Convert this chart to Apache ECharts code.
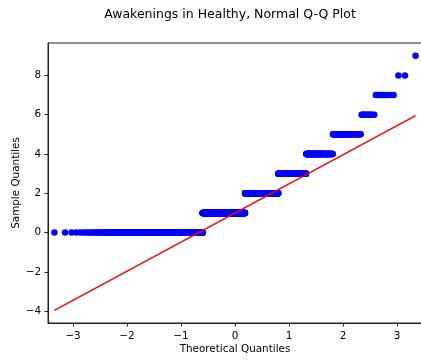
<!DOCTYPE html>
<html>
<head>
<meta charset="utf-8">
<script src="https://cdn.jsdelivr.net/npm/echarts@6/dist/echarts.min.js"></script>
<style>
  html, body { margin: 0; padding: 0; background: #fff; }
  #chart { width: 421px; height: 360px; }
</style>
</head>
<body>
<div id="chart"></div>
<script>
// Awakenings observed in the healthy group: each distinct value and how often it occurs
const sampleValues = [0, 1, 2, 3, 4, 5, 6, 7, 8, 9];
const valueCounts = [659, 718, 515, 283, 141, 61, 12, 8, 2, 1];

// Tick labels for the two axes
const xTicks = [-3, -2, -1, 0, 1, 2, 3];
const yTicks = [-4, -2, 0, 2, 4, 6, 8];

// Inverse of the standard normal CDF (Acklam's rational approximation)
function normPpf(p) {
  const a = [-3.969683028665376e+01, 2.209460984245205e+02, -2.759285104469687e+02,
             1.383577518672690e+02, -3.066479806614716e+01, 2.506628277459239e+00];
  const b = [-5.447609879822406e+01, 1.615858368580409e+02, -1.556989798598866e+02,
             6.680131188771972e+01, -1.328068155288572e+01];
  const c = [-7.784894002430293e-03, -3.223964580411365e-01, -2.400758277161838e+00,
             -2.549732539343734e+00, 4.374664141464968e+00, 2.938163982698783e+00];
  const d = [7.784695709041462e-03, 3.224671290700398e-01, 2.445134137142996e+00,
             3.754408661907416e+00];
  const pLow = 0.02425, pHigh = 1 - pLow;
  let q, r;
  if (p < pLow) {
    q = Math.sqrt(-2 * Math.log(p));
    return (((((c[0]*q+c[1])*q+c[2])*q+c[3])*q+c[4])*q+c[5]) /
           ((((d[0]*q+d[1])*q+d[2])*q+d[3])*q+1);
  }
  if (p <= pHigh) {
    q = p - 0.5; r = q * q;
    return (((((a[0]*r+a[1])*r+a[2])*r+a[3])*r+a[4])*r+a[5])*q /
           (((((b[0]*r+b[1])*r+b[2])*r+b[3])*r+b[4])*r+1);
  }
  q = Math.sqrt(-2 * Math.log(1 - p));
  return -(((((c[0]*q+c[1])*q+c[2])*q+c[3])*q+c[4])*q+c[5]) /
          ((((d[0]*q+d[1])*q+d[2])*q+d[3])*q+1);
}

// Sorted sample, expanded from the value counts
const sorted = [];
sampleValues.forEach((v, k) => {
  for (let j = 0; j < valueCounts[k]; j++) sorted.push(v);
});
const n = sorted.length;

// Pair each order statistic with its theoretical normal quantile, plotting position i/(n+1)
const qqPoints = sorted.map((v, idx) => [normPpf((idx + 1) / (n + 1)), v]);

// Reference line through the first and third quartiles
function quantile(arr, p) {
  const h = (arr.length - 1) * p;
  const lo = Math.floor(h), hi = Math.ceil(h);
  return arr[lo] + (arr[hi] - arr[lo]) * (h - lo);
}
const q1 = quantile(sorted, 0.25), q3 = quantile(sorted, 0.75);
const z1 = normPpf(0.25), z3 = normPpf(0.75);
const slope = (q3 - q1) / (z3 - z1);
const intercept = q1 - slope * z1;
const xFirst = qqPoints[0][0], xLast = qqPoints[n - 1][0];
const qLine = [[xFirst, intercept + slope * xFirst], [xLast, intercept + slope * xLast]];

const fmt = v => (v < 0 ? '\u2212' + Math.abs(v) : String(v));
const font = 'DejaVu Sans';
const spine = '#222';

const chart = echarts.init(document.getElementById('chart'), null, { renderer: 'canvas' });
chart.setOption({
  animation: false,
  backgroundColor: '#fff',
  title: {
    text: 'Awakenings in Healthy, Normal Q-Q Plot',
    left: 225,
    top: 3,
    textAlign: 'center',
    textStyle: { fontFamily: font, fontSize: 12.5, fontWeight: 'normal', color: '#000' }
  },
  grid: {
    left: 48, top: 43, width: 374, bottom: 37,
    outerBoundsMode: 'none',
    containLabel: false,
    show: true, borderColor: spine, borderWidth: 1, backgroundColor: 'transparent'
  },
  xAxis: {
    type: 'value',
    min: -3.46, max: 3.46,
    name: 'Theoretical Quantiles',
    nameLocation: 'middle',
    nameGap: 21,
    nameMoveOverlap: false,
    nameTextStyle: { fontFamily: font, fontSize: 10.4, color: '#000' },
    axisLine: { show: true, onZero: false, lineStyle: { color: spine, width: 1 } },
    axisTick: { show: true, length: 3.5, inside: false, customValues: xTicks, lineStyle: { color: spine } },
    axisLabel: { customValues: xTicks, formatter: fmt, margin: 8, fontFamily: font, fontSize: 10.4, color: '#000' },
    splitLine: { show: false }
  },
  yAxis: {
    type: 'value',
    min: -4.6, max: 9.65,
    name: 'Sample Quantiles',
    nameLocation: 'middle',
    nameGap: 27,
    nameMoveOverlap: false,
    nameTextStyle: { fontFamily: font, fontSize: 10.4, color: '#000' },
    axisLine: { show: true, onZero: false, lineStyle: { color: spine, width: 1 } },
    axisTick: { show: true, length: 3.5, inside: false, customValues: yTicks, lineStyle: { color: spine } },
    axisLabel: { customValues: yTicks, formatter: fmt, margin: 7, fontFamily: font, fontSize: 10.4, color: '#000' },
    splitLine: { show: false }
  },
  series: [
    {
      type: 'scatter',
      data: qqPoints,
      symbol: 'circle',
      symbolSize: 6.5,
      itemStyle: { color: '#0000ff', opacity: 1 },
      z: 2
    },
    {
      type: 'line',
      data: qLine,
      showSymbol: false,
      lineStyle: { color: '#ff0000', width: 1.5 },
      z: 3
    }
  ]
});
</script>
</body>
</html>
